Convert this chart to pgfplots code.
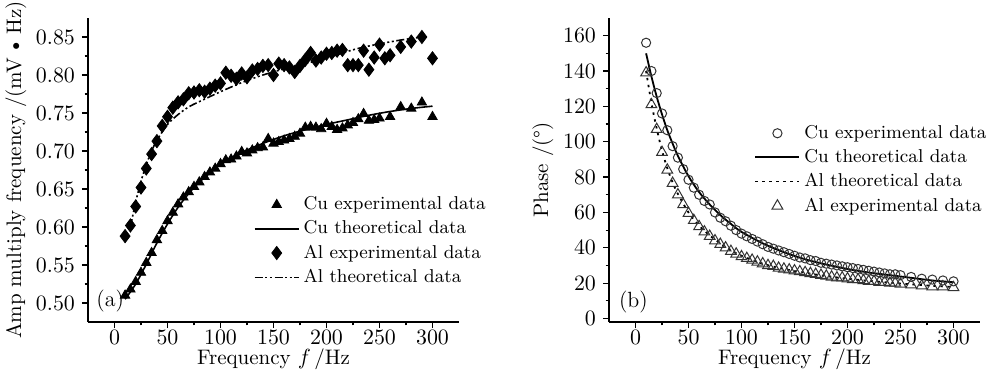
\documentclass[border=0pt]{standalone}
\usepackage{pgfplots}
\pgfplotsset{compat=1.18}
\begin{document}
\begin{tikzpicture}
\pgfplotsset{
  myax/.style={
    scale only axis, width=185.5pt, height=152pt,
    axis x line*=bottom, axis y line*=left,
    axis line style={line width=0.8pt,-},
    tick align=outside, major tick length=3pt, minor tick length=1.7pt,
    every tick/.style={line width=0.6pt,black},
    minor x tick num=1, minor y tick num=1,
    xmin=-25, xmax=325, xtick={0,50,...,300},
    tick label style={font=\fontsize{11}{13}\selectfont},
    xticklabel style={yshift=2.5pt},
    label style={font=\fontsize{10.5}{12}\selectfont},
    xlabel={Frequency $f$\,/Hz},
    xlabel style={yshift=4.5pt},
    legend style={draw=none, fill=none, font=\fontsize{9.3}{11}\selectfont, legend cell align=left, row sep=0pt},
  },
  linelegend/.style={legend image code/.code={\draw[##1] (0pt,0pt) -- (22pt,0pt);}},
  marklegend/.style={legend image code/.code={\draw[##1] plot coordinates {(11pt,0pt)};}},
}
\begin{axis}[myax,
  ymin=0.475, ymax=0.875, ytick={0.50,0.55,...,0.86},
  yticklabel style={/pgf/number format/.cd, fixed, fixed zerofill, precision=2},
  ylabel={Amp multiply frequency /(mV\,\textbullet\,Hz)},
  ylabel style={yshift=-2pt},
  legend style={at={(0.43,0.44)}, anchor=north west},
]
\addplot[only marks, mark=triangle*, mark size=2.7pt, black, marklegend] coordinates {
(10,0.510)(15,0.518)(20,0.528)(25,0.540)(30,0.553)(35,0.566)(40,0.583)(45,0.595)(50,0.608)(55,0.619)
(60,0.630)(65,0.639)(70,0.646)(75,0.653)(80,0.659)(85,0.666)(90,0.672)(95,0.677)(100,0.683)(105,0.688)
(110,0.689)(115,0.693)(120,0.699)(125,0.697)(130,0.701)(135,0.704)(140,0.705)(145,0.716)(150,0.710)(155,0.712)
(160,0.714)(165,0.716)(170,0.719)(175,0.723)(180,0.731)(185,0.732)(190,0.731)(195,0.729)(200,0.736)(205,0.732)
(210,0.728)(215,0.730)(220,0.734)(225,0.737)(230,0.742)(235,0.749)(240,0.740)(245,0.741)(250,0.743)(260,0.745)
(270,0.758)(280,0.756)(290,0.764)(300,0.745)};
\addlegendentry{Cu experimental data}
\addplot[black, line width=0.8pt, smooth, linelegend] coordinates {
(10,0.505)(20,0.525)(30,0.551)(40,0.579)(50,0.604)(60,0.626)(70,0.644)(80,0.659)(90,0.671)(100,0.682)
(120,0.698)(140,0.710)(160,0.720)(180,0.728)(200,0.735)(220,0.741)(240,0.747)(260,0.752)(280,0.756)(300,0.759)};
\addlegendentry{Cu theoretical data}
\addplot[only marks, mark=diamond*, mark size=3.3pt, black, marklegend] coordinates {
(10,0.588)(15,0.602)(20,0.627)(25,0.652)(30,0.677)(35,0.696)(40,0.713)(45,0.733)(50,0.745)(55,0.757)
(60,0.764)(65,0.768)(70,0.776)(75,0.777)(80,0.780)(85,0.778)(90,0.782)(95,0.786)(100,0.789)(105,0.803)
(110,0.799)(115,0.795)(120,0.802)(125,0.797)(130,0.806)(135,0.808)(140,0.812)(145,0.813)(150,0.800)(155,0.815)
(160,0.813)(165,0.810)(170,0.804)(175,0.812)(180,0.820)(185,0.829)(190,0.819)(195,0.823)(200,0.828)(205,0.829)
(210,0.832)(215,0.833)(220,0.813)(225,0.813)(230,0.813)(235,0.832)(240,0.807)(245,0.823)(250,0.840)(255,0.822)
(260,0.826)(270,0.837)(280,0.844)(290,0.850)(300,0.822)};
\addlegendentry{Al experimental data}
\addplot[black, line width=0.8pt, smooth, dash pattern=on 4pt off 1.3pt on 1pt off 1.3pt on 1pt off 1.3pt, linelegend] coordinates {
(15,0.600)(20,0.633)(25,0.660)(30,0.682)(35,0.700)(40,0.714)(50,0.735)(60,0.748)(70,0.758)(80,0.765)
(100,0.778)(120,0.790)(140,0.800)(160,0.808)(180,0.815)(200,0.822)(215,0.829)(230,0.835)(250,0.841)(270,0.846)(290,0.850)};
\addlegendentry{Al theoretical data}
\node[font=\fontsize{11}{13}\selectfont] at (axis cs:-4,0.503) {(a)};
\end{axis}
\begin{axis}[myax, at={(260.5pt,0pt)},
  ymin=-2, ymax=170, ytick={0,20,...,160},
  ylabel={Phase /(\textdegree)},
  ylabel style={yshift=-2pt},
  legend style={at={(0.375,0.675)}, anchor=north west},
]
\addplot[only marks, mark=o, mark size=2.3pt, black!80, mark options={line width=0.5pt}, marklegend] coordinates {
(10,156)(15,140)(20,127.5)(25,116)(30,106.5)(35,97.5)(40,91)(45,84.5)(50,78.5)(55,74)
(60,70)(65,66.5)(70,64.5)(75,60)(80,57)(85,55)(90,52.5)(95,50)(100,48)(105,46.5)
(110,45)(115,43.5)(120,42)(125,40.5)(130,39.5)(135,38.5)(140,37.5)(145,36.5)(150,35.5)(155,34.5)
(160,34)(165,33)(170,32.5)(175,31.5)(180,31)(185,30.5)(190,30)(195,29.5)(200,29)(205,28.5)
(210,28)(215,27.5)(220,27)(225,26.5)(230,26)(235,25.5)(240,25)(245,25)(250,24.5)(260,23.5)
(270,22.5)(280,22)(290,21.5)(300,21)};
\addlegendentry{Cu experimental data}
\addplot[black, line width=0.9pt, smooth, linelegend] coordinates {
(10,150)(15,137)(20,125.5)(25,115.5)(30,106.5)(35,99)(40,92)(50,80.5)(60,71.5)(70,64.5)(80,58.5)
(90,53.5)(100,49)(120,42.5)(140,37.5)(160,33.5)(180,30.5)(200,28)(220,26)(240,24.5)(260,23)(280,21.5)(300,20.5)};
\addlegendentry{Cu theoretical data}
\addplot[black, line width=0.9pt, smooth, dash pattern=on 1.2pt off 2.3pt, linelegend] coordinates {
(10,140)(15,122)(20,107.5)(25,95)(30,85)(35,77)(40,70.5)(50,60)(60,52.5)(70,47)(80,42.5)
(90,38.5)(100,35.5)(120,31)(140,28)(160,25.8)(180,24)(200,22.5)(220,21.3)(240,20.3)(260,19.3)(280,18.5)(300,17.8)};
\addlegendentry{Al theoretical data}
\addplot[only marks, mark=triangle, mark size=3.1pt, black!80, mark options={line width=0.5pt}, marklegend] coordinates {
(10,139)(15,121)(20,107)(25,94)(30,84)(35,76.5)(40,70)(45,64.5)(50,59.5)(55,55.5)
(60,52)(65,49)(70,46.5)(75,44)(80,42)(85,40)(90,38)(95,36.5)(100,35)(105,34)
(110,33)(115,32)(120,31)(125,30)(130,29.5)(135,28.5)(140,28)(145,27.5)(150,27)(155,26.5)
(160,26)(165,25.5)(170,25)(175,24.5)(180,24)(185,23.5)(190,23)(195,23)(200,22.5)(205,22)
(210,22)(215,21.5)(220,21)(225,21)(230,20.5)(235,20.5)(240,20)(245,20)(250,19.5)(260,19)
(270,18.5)(280,18)(290,18)(300,17.5)};
\addlegendentry{Al experimental data}
\node[font=\fontsize{11}{13}\selectfont] at (axis cs:-2,9.5) {(b)};
\end{axis}
\pgfresetboundingbox
\path[use as bounding box] (-44pt,-27.5pt) rectangle (451pt,161pt);
\end{tikzpicture}
\end{document}
